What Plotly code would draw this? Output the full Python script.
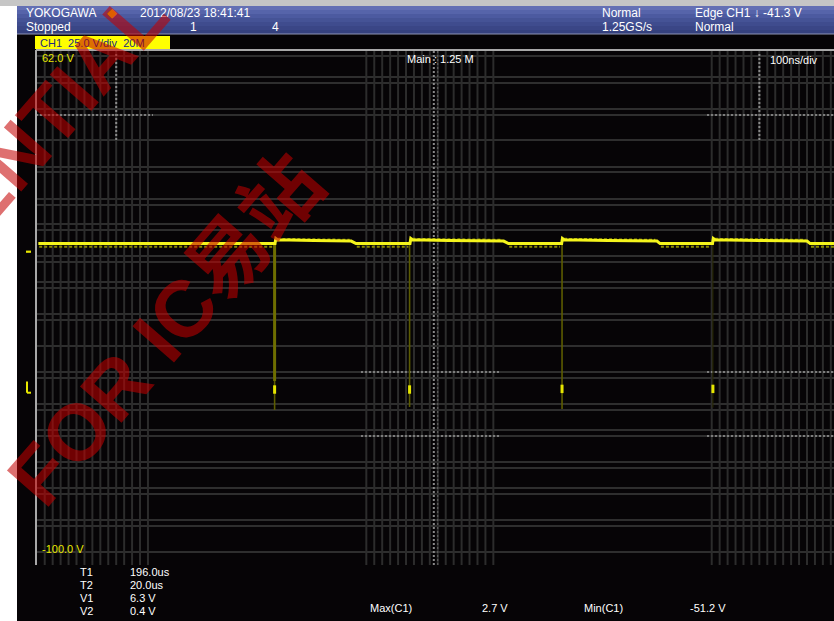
import plotly.graph_objects as go

W, H = 834, 621

# ---- acquired waveform (time in ns, voltage in V) ----
trace_t = [-497, -199, -198, -196, -150, -103, -97,
           -29, -28, -26, 20, 89, 95,
           162, 163, 165, 220, 282, 286,
           352, 353, 355, 410, 471, 475, 505]
trace_v = [1.1, 1.1, 2.7, 2.3, 2.1, 1.9, 1.1,
           1.1, 2.7, 2.3, 2.1, 1.9, 1.1,
           1.1, 2.7, 2.3, 2.1, 1.9, 1.1,
           1.1, 2.7, 2.3, 2.1, 1.9, 1.1, 1.1]

# low-intensity persistence around the trace (None breaks the line)
fuzz_t = [-496, -201, None, -196, -105, None, -96, -31, None, -26, 87, None,
          96, 160, None, 165, 280, None, 287, 350, None, 355, 469, None, 476, 505]
fuzz_v = [0.1, 0.1, None, 2.6, 2.3, None, 0.1, 0.1, None, 2.6, 2.3, None,
          0.1, 0.1, None, 2.6, 2.3, None, 0.1, 0.1, None, 2.6, 2.3, None, 0.1, 0.1]

# negative switching spikes
spike_t = [-199.5, -29.5, 162.5, 352.5]
spike_min = [-51.2, -50.3, -50.9, -50.5]
spike_dot_v = [-44.8, -44.8, -44.6, -44.6]
spike_dense_end = -42.1          # heavily sampled part of the first spike
baseline_v = 1.1

# readouts
cursor_labels = ["T1", "T2", "V1", "V2"]
cursor_values = ["196.0us", "20.0us", "6.3 V", "0.4 V"]
trigger_level = -41.3
v_top, v_bottom = 62.0, -100.0
t_left, t_right = -500, 505

# ---- pixel helpers for screen furniture ----
def fx(px):
    return px / W

def fy(py):
    return 1 - py / H

PLOT_L, PLOT_T, PLOT_B = 36, 50, 565

fig = go.Figure()

# spikes (dim, rarely sampled)
sx, sy = [], []
for t, vmin in zip(spike_t[:3], spike_min[:3]):
    sx += [t, t, None]
    sy += [baseline_v, vmin, None]
fig.add_trace(go.Scatter(x=sx, y=sy, mode="lines",
                         line=dict(color="#5c5c00", width=1.6),
                         hoverinfo="skip", showlegend=False))
fig.add_trace(go.Scatter(x=[spike_t[3], spike_t[3]], y=[baseline_v, spike_min[3]],
                         mode="lines", line=dict(color="#2a2a00", width=1),
                         hoverinfo="skip", showlegend=False))
fig.add_trace(go.Scatter(x=[spike_t[0], spike_t[0]], y=[baseline_v, spike_dense_end],
                         mode="lines", line=dict(color="#6e6e00", width=3),
                         hoverinfo="skip", showlegend=False))
fig.add_trace(go.Scatter(x=spike_t, y=spike_dot_v, mode="markers",
                         marker=dict(symbol="line-ns", size=6,
                                     line=dict(color="#e6e600", width=3)),
                         hoverinfo="skip", showlegend=False))

# persistence fuzz and main trace
fig.add_trace(go.Scatter(x=fuzz_t, y=fuzz_v, mode="lines", connectgaps=False,
                         line=dict(color="#8a8a00", width=2, dash="3px,2px"),
                         hoverinfo="skip", showlegend=False))
fig.add_trace(go.Scatter(x=trace_t, y=trace_v, mode="lines",
                         line=dict(color="#f4f41c", width=3),
                         hoverinfo="skip", showlegend=False))

shapes = []

# page furniture
shapes.append(dict(type="rect", xref="paper", yref="paper", x0=0, x1=1,
                   y0=fy(6), y1=1, fillcolor="#c6c6c6", line_width=0, layer="below"))
shapes.append(dict(type="rect", xref="paper", yref="paper", x0=0, x1=fx(17),
                   y0=0, y1=fy(6), fillcolor="#ffffff", line_width=0, layer="below"))
header_cols = ["#6470b4", "#5664aa", "#4c5aa0", "#455396", "#3f4c8e", "#3a4686", "#35417e"]
band_h = (34 - 6) / len(header_cols)
for i, c in enumerate(header_cols):
    shapes.append(dict(type="rect", xref="paper", yref="paper", x0=fx(17), x1=1,
                       y0=fy(6 + (i + 1) * band_h), y1=fy(6 + i * band_h),
                       fillcolor=c, line_width=0, layer="below"))
shapes.append(dict(type="line", xref="paper", yref="paper", x0=fx(17), x1=1,
                   y0=fy(34), y1=fy(34), line=dict(color="#8e94b4", width=1), layer="below"))

# channel box
shapes.append(dict(type="rect", xref="paper", yref="paper", x0=fx(35), x1=fx(170),
                   y0=fy(49), y1=fy(36), fillcolor="#ffff00", line_width=0, layer="below"))

# horizontal graticule lines (pixel rows on the screen)
grid_rows = [56, 77, 83, 109, 115, 140, 167, 172, 199, 205, 224, 230, 256, 262,
             282, 288, 314, 320, 346, 372, 378, 404, 410, 430, 436, 462, 468,
             488, 494, 520, 526, 552]
for r in grid_rows:
    shapes.append(dict(type="line", xref="paper", yref="paper", x0=fx(PLOT_L), x1=1,
                       y0=fy(r), y1=fy(r), line=dict(color="#2e2e2e", width=2),
                       layer="below"))

# vertical fine-division clusters (time in ns)
clusters = [(-489, 14), (-84, 17), (351, 16)]
for start, n in clusters:
    for k in range(n):
        t = start + 10 * k
        shapes.append(dict(type="line", xref="x", yref="y domain", x0=t, x1=t,
                           y0=0, y1=1, line=dict(color="#2c2c2c", width=2),
                           layer="below"))

# dotted markers
dot = dict(color="#8a8a8a", width=2, dash="2px,2px")
shapes.append(dict(type="line", xref="x", yref="y domain", x0=1, x1=1, y0=0, y1=1,
                   line=dot, layer="below"))
shapes.append(dict(type="line", xref="x", yref="y domain", x0=6, x1=6, y0=0, y1=1,
                   line=dict(color="#6a6a6a", width=1, dash="2px,2px"), layer="below"))
for t in (-399, 411):
    shapes.append(dict(type="line", xref="x", yref="paper", x0=t, x1=t,
                       y0=fy(140), y1=fy(52), line=dot, layer="below"))
for r, segs in ((115, [(36, 153), (707, 834)]),
                (372, [(361, 499), (707, 834)]),
                (436, [(361, 499), (707, 834)])):
    for a, b in segs:
        shapes.append(dict(type="line", xref="paper", yref="paper", x0=fx(a), x1=fx(b),
                           y0=fy(r), y1=fy(r),
                           line=dict(color="#7c7c7c", width=2, dash="2px,2px"),
                           layer="below"))

# screen border
shapes.append(dict(type="line", xref="paper", yref="paper", x0=fx(PLOT_L), x1=1,
                   y0=fy(PLOT_T), y1=fy(PLOT_T), line=dict(color="#a8a8a8", width=2)))
shapes.append(dict(type="line", xref="paper", yref="paper", x0=fx(PLOT_L), x1=fx(PLOT_L),
                   y0=fy(PLOT_B), y1=fy(PLOT_T), line=dict(color="#a8a8a8", width=2)))

# ground and trigger level markers on the left edge
shapes.append(dict(type="rect", xref="paper", yref="y", x0=fx(26), x1=fx(31),
                   y0=-1.1, y1=-1.8, fillcolor="#e8e800", line_width=0))
shapes.append(dict(type="line", xref="paper", yref="y", x0=fx(27), x1=fx(27),
                   y0=trigger_level - 1, y1=trigger_level - 4.5,
                   line=dict(color="#e8e800", width=2)))
shapes.append(dict(type="line", xref="paper", yref="y", x0=fx(27), x1=fx(31),
                   y0=trigger_level - 4.5, y1=trigger_level - 4.5,
                   line=dict(color="#e8e800", width=2)))

FONT = "Liberation Sans"
ann = []

def txt(x, y, s, color="#ffffff", size=12, anchor="left"):
    ann.append(dict(x=fx(x), y=fy(y), xref="paper", yref="paper", text=s,
                    showarrow=False, xanchor=anchor, yanchor="middle",
                    font=dict(family=FONT, size=size, color=color)))

# header
txt(24, 13, "YOKOGAWA")
txt(105, 13, "◆", color="#ffd800", size=13)
txt(138, 13, "2012/08/23 18:41:41")
txt(24, 27, "Stopped")
txt(188, 27, "1")
txt(270, 27, "4")
txt(600, 13, "Normal")
txt(600, 27, "1.25GS/s")
txt(693, 13, f"Edge CH1 ↓ {trigger_level:.1f} V")
txt(693, 27, "Normal")
txt(38, 43, "CH1  25.0 V/div  20M", color="#1c2a80", size=11)

# on-screen labels
txt(40, 58, f"{v_top:.1f} V", color="#e8e800", size=11)
txt(405, 59, "Main : 1.25 M", size=11)
txt(768, 60, "100ns/div", size=11)
txt(40, 549, f"{v_bottom:.1f} V", color="#e8e800", size=11)

# cursor readouts
for i, (lab, val) in enumerate(zip(cursor_labels, cursor_values)):
    y = 572 + 13 * i
    txt(78, y, lab, size=11)
    txt(128, y, val, size=11)

# measurement readouts computed from the waveform
vmax = max(v for v in trace_v if v is not None)
vmin = min(spike_min)
txt(368, 608, "Max(C1)", size=11)
txt(480, 608, f"{vmax:.1f} V", size=11)
txt(582, 608, "Min(C1)", size=11)
txt(688, 608, f"{vmin:.1f} V", size=11)

# watermark
wm_font = dict(family="Liberation Sans, Noto Sans CJK SC", size=80, color="rgba(196,0,0,0.56)")
ann.append(dict(x=fx(165), y=fy(330), xref="paper", yref="paper",
                text="<b>FOR IC易站</b>", showarrow=False, textangle=-49,
                xanchor="center", yanchor="middle", font=wm_font))
ann.append(dict(x=fx(-44), y=fy(224), xref="paper", yref="paper",
                text="<b>CONFIDENTIAL</b>", showarrow=False, textangle=-49,
                xanchor="center", yanchor="middle", font=wm_font))

fig.update_layout(
    width=W, height=H,
    margin=dict(l=0, r=0, t=0, b=0),
    paper_bgcolor="#060406",
    plot_bgcolor="#060406",
    showlegend=False,
    xaxis=dict(domain=[fx(PLOT_L), 1], range=[t_left, t_right], visible=False,
               showgrid=False, zeroline=False),
    yaxis=dict(domain=[fy(PLOT_B), fy(PLOT_T)], range=[v_bottom, v_top], visible=False,
               showgrid=False, zeroline=False),
    shapes=shapes,
    annotations=ann,
)

fig.write_html("out.html")
